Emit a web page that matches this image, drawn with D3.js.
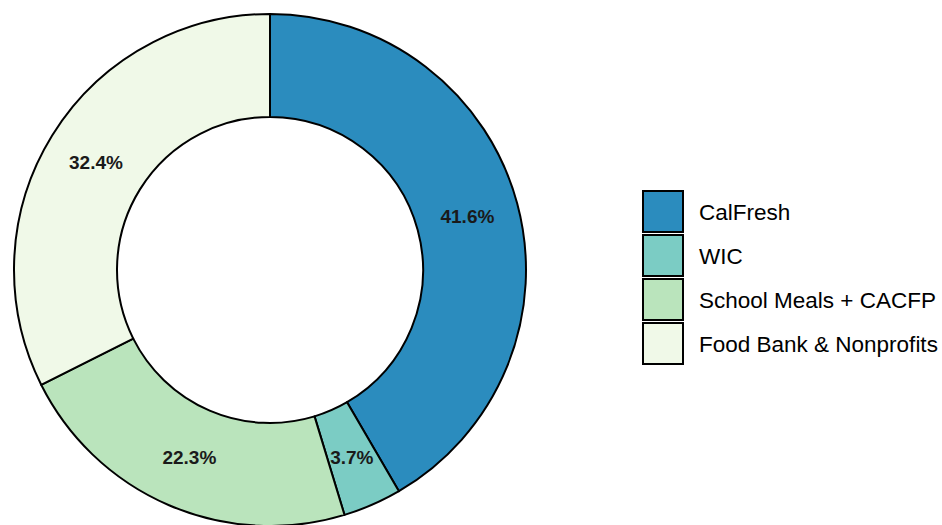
<!DOCTYPE html>
<html>
<head>
<meta charset="utf-8">
<script src="https://cdn.jsdelivr.net/npm/d3@7"></script>
<style>
html,body{margin:0;padding:0;background:#fff;}
svg{display:block;font-family:"Liberation Sans",Arial,Helvetica,sans-serif;}
</style>
</head>
<body>
<svg id="chart" width="942" height="525"></svg>
<script>
const categories = ["CalFresh", "WIC", "School Meals + CACFP", "Food Bank & Nonprofits"];
const values = [41.6, 3.7, 22.3, 32.4];
const colors = ["#2b8cbe", "#7bccc4", "#bae4bc", "#f0f9e8"];

const data = categories.map((c, i) => ({name: c, value: values[i], color: colors[i]}));

const svg = d3.select("#chart");
const cx = 270, cy = 270, outerR = 256, innerR = 153;

const pie = d3.pie().sort(null).value(d => d.value);
const arc = d3.arc().innerRadius(innerR).outerRadius(outerR);
const labelArc = d3.arc().innerRadius((innerR + outerR) / 2).outerRadius((innerR + outerR) / 2);

const g = svg.append("g").attr("transform", `translate(${cx},${cy})`);
const arcs = pie(data);

g.selectAll("path").data(arcs).enter().append("path")
  .attr("d", arc)
  .attr("fill", d => d.data.color)
  .attr("stroke", "#000")
  .attr("stroke-width", 2)
  .attr("stroke-linejoin", "round");

g.selectAll("text").data(arcs).enter().append("text")
  .attr("transform", d => `translate(${labelArc.centroid(d)})`)
  .attr("text-anchor", "middle")
  .attr("dominant-baseline", "central")
  .attr("font-weight", "bold")
  .attr("font-size", 19)
  .attr("fill", "#1a1a1a")
  .text(d => d3.format(".1f")(d.data.value) + "%");

const legend = svg.append("g").attr("transform", "translate(643,191)");
const step = 44;
const items = legend.selectAll("g").data(data).enter().append("g")
  .attr("transform", (d, i) => `translate(0,${i * step})`);
items.append("rect")
  .attr("x", 0).attr("y", 0).attr("width", 40).attr("height", 41)
  .attr("fill", d => d.color)
  .attr("stroke", "#000")
  .attr("stroke-width", 2);
items.append("text")
  .attr("x", 56).attr("y", 21)
  .attr("dominant-baseline", "central")
  .attr("font-size", 22.5)
  .attr("fill", "#000")
  .text(d => d.name);
</script>
</body>
</html>
